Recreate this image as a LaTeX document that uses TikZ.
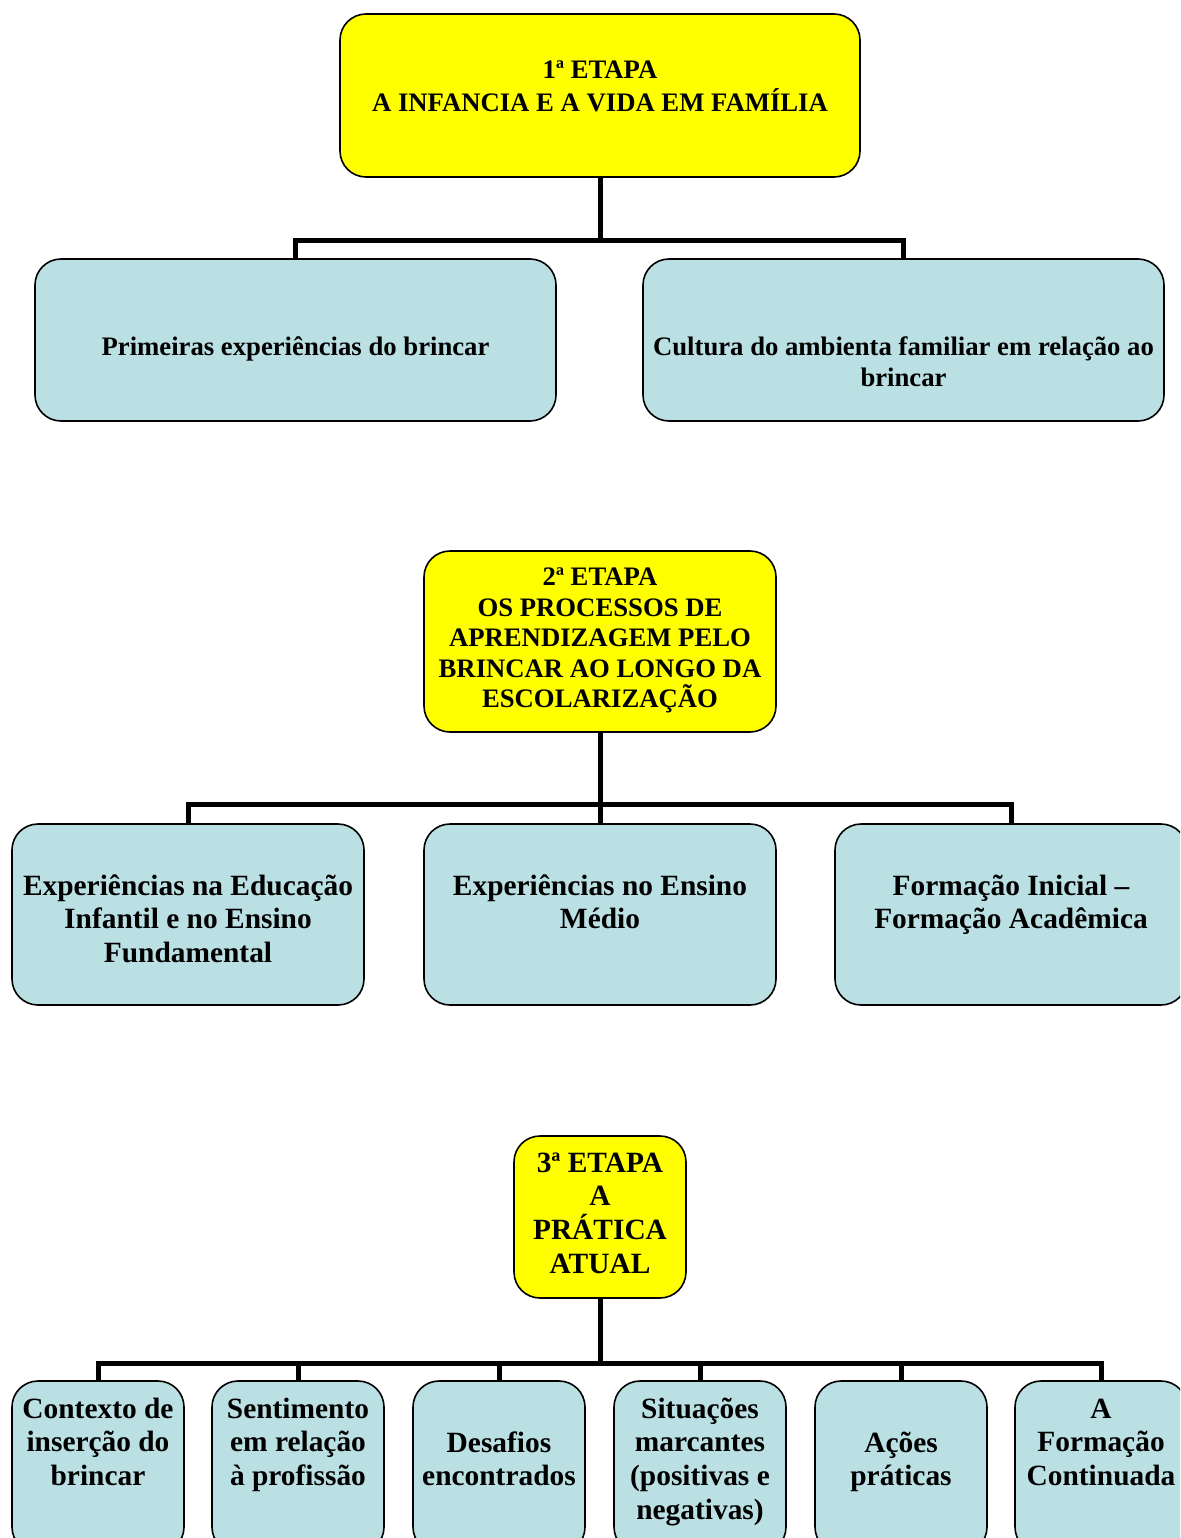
\documentclass[tikz,border=0pt]{standalone}
\usepackage{fontspec}
\setmainfont{Liberation Serif}
\usepackage{xcolor}
\usetikzlibrary{positioning}
\definecolor{StageYellow}{HTML}{FFFF00}
\definecolor{LeafBlue}{HTML}{BBE0E3}

\begin{document}
\begin{tikzpicture}[x=1pt,y=-1pt,
  stage/.style={draw=black,line width=1.6pt,rounded corners=26pt,fill=StageYellow},
  leaf/.style={draw=black,line width=1.6pt,rounded corners=26pt,fill=LeafBlue},
  txtbig/.style={anchor=north,inner sep=0pt,align=center,
    font=\fontsize{26.7}{30.5}\selectfont\bfseries},
  txtsmall/.style={anchor=north,inner sep=0pt,align=center,
    font=\fontsize{29.4}{33.8}\selectfont\bfseries},
  tree/.style={line width=5pt,draw=black}
]
\useasboundingbox (0,0) rectangle (1180,1538);
\clip (0,0) rectangle (1180,1538);

% First stage.
\node[stage,minimum width=520pt,minimum height=163pt] (e1) at (600,95.5) {};
\node[txtbig] at ([yshift=-44pt]e1.north) {\strut 1ª ETAPA\\A INFANCIA E A VIDA EM FAMÍLIA};
\node[leaf,minimum width=521pt,minimum height=162pt] (f1) at (295.5,340) {};
\node[txtbig] at ([yshift=-76pt]f1.north) {\strut Primeiras experiências do brincar};
\node[leaf,minimum width=521pt,minimum height=162pt] (f2) at (903.5,340) {};
\node[txtbig] at ([yshift=-76pt]f2.north) {\strut Cultura do ambienta familiar em relação ao\\brincar};
\coordinate (j1) at (600,241);
\draw[tree] (e1.south) -- (j1);
\draw[tree] (f1.north) |- (j1) -| (f2.north);

% Second stage.
\node[stage,minimum width=352pt,minimum height=181pt] (e2) at (600,641.5) {};
\node[txtbig] at ([yshift=-14pt]e2.north)
  {\strut 2ª ETAPA\\OS PROCESSOS DE\\APRENDIZAGEM PELO\\BRINCAR AO LONGO DA\\ESCOLARIZAÇÃO};
\node[leaf,minimum width=352pt,minimum height=181pt] (s1) at (188,914.5) {};
\node[txtsmall] at ([yshift=-48pt]s1.north) {\strut Experiências na Educação\\Infantil e no Ensino\\Fundamental};
\node[leaf,minimum width=352pt,minimum height=181pt] (s2) at (600,914.5) {};
\node[txtsmall] at ([yshift=-48pt]s2.north) {\strut Experiências no Ensino\\Médio};
\node[leaf,minimum width=352pt,minimum height=181pt] (s3) at (1011,914.5) {};
\node[txtsmall] at ([yshift=-48pt]s3.north) {\strut Formação Inicial --\\Formação Acadêmica};
\coordinate (j2) at (600,804);
\draw[tree] (e2.south) -- (s2.north);
\draw[tree] (s1.north) |- (j2) -| (s3.north);

% Third stage.
\node[stage,minimum width=172pt,minimum height=162pt] (e3) at (600,1217) {};
\node[txtsmall] at ([yshift=-13pt]e3.north) {\strut 3ª ETAPA\\A\\PRÁTICA\\ATUAL};
\foreach \x/\i/\off/\txt in {
    98/1/14/{Contexto de\\inserção do\\brincar},
    298/2/14/{Sentimento\\em relação\\à profissão},
    499/3/48/{Desafios\\encontrados},
    700/4/14/{Situações\\marcantes\\(positivas e\\negativas)},
    901/5/48/{Ações\\práticas},
    1101/6/14/{A\\Formação\\Continuada}} {
  \node[leaf,minimum width=172pt,minimum height=172pt] (p\i) at (\x,1467) {};
  \node[txtsmall] at ([yshift=-\off pt]p\i.north) {\strut\txt};
}
\coordinate (j3) at (600,1363);
\draw[tree] (e3.south) -- (j3);
\foreach \i in {1,...,6} \draw[tree] (p\i.north) |- (j3);
\end{tikzpicture}
\end{document}
